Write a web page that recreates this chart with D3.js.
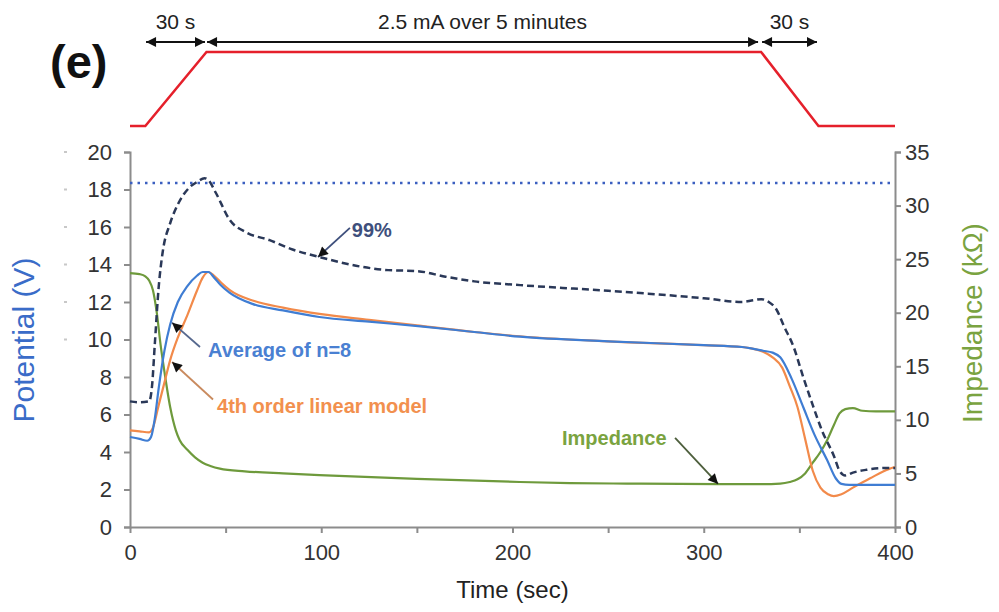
<!DOCTYPE html>
<html>
<head>
<meta charset="utf-8">
<script src="https://cdn.jsdelivr.net/npm/d3@7"></script>
<style>
  body { margin: 0; background: #fff; }
  text { font-family: "Liberation Sans", Arial, sans-serif; }
</style>
</head>
<body>
<div id="chart"></div>
<script>
// window + plot box
const width = 999
const height = 612
const plot = {left: 130, right: 895, top: 152, bottom: 527}

// ---- data ----
// average of n=8 (V)
var time_avg = [0, 5, 9, 11, 13, 15, 18, 21, 25, 30, 35, 38, 41, 44, 47, 52, 64, 80, 99, 125, 152, 180, 204, 250, 300, 320, 326, 331, 336, 340, 346, 352, 358, 364.5, 369, 372, 376, 400]
var avg = [4.8, 4.7, 4.6, 4.8, 5.8, 7.4, 9.4, 10.8, 12.0, 12.85, 13.4, 13.6, 13.6, 13.3, 12.95, 12.5, 11.9, 11.55, 11.2, 10.95, 10.7, 10.4, 10.15, 9.9, 9.7, 9.6, 9.5, 9.4, 9.3, 9.05, 7.9, 6.4, 4.9, 3.57, 2.6, 2.3, 2.25, 2.25]

// 4th order linear model (V)
var time_model = [0, 5, 10, 12, 15, 18, 21, 25, 30, 35, 38, 41, 44, 48, 52, 65, 80, 100, 125, 150, 180, 200, 250, 300, 320, 326, 331, 336, 341, 345, 349, 353, 357, 361, 365, 368, 372, 378, 387, 397, 400]
var model = [5.15, 5.1, 5.05, 5.3, 6.5, 7.7, 8.9, 10.1, 11.3, 12.6, 13.3, 13.6, 13.4, 13.0, 12.65, 12.05, 11.7, 11.35, 11.05, 10.75, 10.4, 10.2, 9.9, 9.7, 9.6, 9.5, 9.35, 9.05, 8.5, 7.5, 6.4, 4.7, 3.0, 2.1, 1.75, 1.65, 1.75, 2.1, 2.6, 3.1, 3.2]

// 99% bound (V)
var time_99 = [0, 5, 10, 11.5, 13, 15, 17, 21, 25, 31, 35, 39, 41, 45, 52, 61, 73, 85, 99, 120, 135, 150, 165, 180, 204, 250, 300, 320, 326, 330, 334, 338, 342, 347, 352, 357, 362, 368, 371, 374, 378, 385, 397, 400]
var pct99 = [6.7, 6.65, 6.7, 7.5, 9.8, 12.8, 14.6, 16.2, 17.2, 18.1, 18.4, 18.6, 18.5, 17.8, 16.4, 15.7, 15.3, 14.8, 14.4, 13.9, 13.7, 13.65, 13.35, 13.1, 12.9, 12.6, 12.2, 12.0, 12.1, 12.15, 12.0, 11.6, 10.7, 9.6, 8.0, 6.5, 5.1, 3.8, 3.0, 2.75, 2.9, 3.05, 3.15, 3.15]

// impedance (kOhm, right axis)
var time_imp = [0, 5, 8, 10, 12, 14, 16, 18, 21, 24, 26, 30, 34, 38, 42, 47, 60, 80, 99, 150, 204, 230, 260, 308, 330, 340, 345, 349, 353, 357, 361, 364.5, 368, 371, 374, 378, 383, 390, 400]
var impedance = [23.7, 23.6, 23.4, 23.0, 22.1, 20.0, 17.0, 14.5, 11.2, 9.0, 8.1, 7.2, 6.5, 6.0, 5.7, 5.45, 5.2, 5.0, 4.85, 4.5, 4.2, 4.1, 4.05, 4.0, 4.0, 4.05, 4.2, 4.45, 5.0, 6.0, 7.0, 8.1, 9.5, 10.6, 11.0, 11.1, 10.85, 10.8, 10.8]

var limit_v = 18.35   // dotted line

// current profile on top (mA)
var time_cur = [0, 8, 40, 330, 360, 400]
var current = [0, 0, 2.5, 2.5, 0, 0]
var phases = [{t0: 8.4, t1: 39.2, label: "30 s"}, {t0: 40.3, t1: 328.4, label: "2.5 mA over 5 minutes"}, {t0: 330.5, t1: 359.2, label: "30 s"}]

var ticks_v = d3.range(0, 21, 2)
var ticks_k = d3.range(0, 36, 5)
var ticks_t = d3.range(0, 401, 50)

function zip(t, v) { return t.map(function(d, i) { return {t: d, v: v[i]} }) }

var svg = d3.select("#chart").append("svg")
  .attr("width", width)
  .attr("height", height)

var defs = svg.append("defs")
defs.append("marker")
  .attr("id", "head")
  .attr("viewBox", "0 0 10 10")
  .attr("refX", 10).attr("refY", 5)
  .attr("markerUnits", "userSpaceOnUse")
  .attr("markerWidth", 12).attr("markerHeight", 10)
  .attr("orient", "auto-start-reverse")
  .append("path").attr("d", "M0,0 L10,5 L0,10 z").attr("fill", "#111")

// scales
var x = d3.scaleLinear().domain([0, 400]).range([plot.left, plot.right])
var yV = d3.scaleLinear().domain([0, 20]).range([plot.bottom, plot.top])
var yK = d3.scaleLinear().domain([0, 35]).range([plot.bottom, plot.top])
var yI = d3.scaleLinear().domain([0, 2.5]).range([126, 52])

// ---- top: current profile ----
svg.append("path")
  .datum(zip(time_cur, current))
  .attr("fill", "none")
  .attr("stroke", "#e5202b")
  .attr("stroke-width", 2.5)
  .attr("d", d3.line().x(function(d) { return x(d.t) }).y(function(d) { return yI(d.v) }))

phases.forEach(function(p) {
  svg.append("line")
    .attr("x1", x(p.t0)).attr("x2", x(p.t1))
    .attr("y1", 42).attr("y2", 42)
    .attr("stroke", "#111").attr("stroke-width", 2)
    .attr("marker-start", "url(#head)")
    .attr("marker-end", "url(#head)")
  svg.append("text")
    .attr("x", (x(p.t0) + x(p.t1)) / 2)
    .attr("y", 29)
    .attr("text-anchor", "middle")
    .attr("font-size", 21)
    .attr("fill", "#222")
    .text(p.label)
})

svg.append("text")
  .attr("x", 50).attr("y", 78)
  .attr("font-size", 47)
  .attr("font-weight", "bold")
  .attr("fill", "#111")
  .text("(e)")

// ---- axes ----
function styleAxis(g) {
  g.selectAll("path, line").attr("stroke", "#8c8c8c").attr("stroke-width", 2)
  g.selectAll("text").attr("font-size", 22).attr("fill", "#333")
    .attr("font-family", "'Liberation Sans', Arial, sans-serif")
}

svg.append("g")
  .attr("transform", "translate(" + plot.left + ",0)")
  .call(d3.axisLeft(yV).tickValues(ticks_v).tickSize(6).tickPadding(12))
  .call(styleAxis)

svg.append("g")
  .attr("transform", "translate(" + plot.right + ",0)")
  .call(d3.axisRight(yK).tickValues(ticks_k).tickSize(6).tickPadding(4))
  .call(styleAxis)

svg.append("g")
  .attr("transform", "translate(0," + plot.bottom + ")")
  .call(d3.axisBottom(x).tickValues(ticks_t).tickSize(6).tickSizeOuter(0).tickPadding(11)
    .tickFormat(function(d) { return d % 100 === 0 ? d : "" }))
  .call(styleAxis)

// faint marks left of the tick labels (from the neighbouring panel)
svg.append("g").selectAll("rect")
  .data(ticks_v.filter(function(d) { return d >= 10 }))
  .enter().append("rect")
  .attr("x", 64).attr("y", function(d) { return yV(d) - 1 })
  .attr("width", 3).attr("height", 2)
  .attr("fill", "#c8c8c8")

// axis titles
svg.append("text")
  .attr("transform", "translate(23,340) rotate(-90)")
  .attr("text-anchor", "middle")
  .attr("dominant-baseline", "central")
  .attr("font-size", 30)
  .attr("fill", "#3a6cc8")
  .text("Potential (V)")

svg.append("text")
  .attr("transform", "translate(972,323) rotate(-90)")
  .attr("text-anchor", "middle")
  .attr("dominant-baseline", "central")
  .attr("font-size", 28)
  .attr("fill", "#7aa340")
  .text("Impedance (k\u03A9)")

svg.append("text")
  .attr("x", (plot.left + plot.right) / 2)
  .attr("y", 598)
  .attr("text-anchor", "middle")
  .attr("font-size", 24)
  .attr("fill", "#222")
  .text("Time (sec)")

// ---- series ----
var lineV = d3.line().curve(d3.curveMonotoneX)
  .x(function(d) { return x(d.t) }).y(function(d) { return yV(d.v) })
var lineK = d3.line().curve(d3.curveMonotoneX)
  .x(function(d) { return x(d.t) }).y(function(d) { return yK(d.v) })

svg.append("line")
  .attr("x1", x(0)).attr("x2", x(400))
  .attr("y1", yV(limit_v)).attr("y2", yV(limit_v))
  .attr("stroke", "#3b5fc0").attr("stroke-width", 2.5)
  .attr("stroke-dasharray", "2.5,5")

svg.append("path")
  .datum(zip(time_imp, impedance))
  .attr("fill", "none").attr("stroke", "#6e9a3c").attr("stroke-width", 2.2)
  .attr("d", lineK)

svg.append("path")
  .datum(zip(time_model, model))
  .attr("fill", "none").attr("stroke", "#f28a4a").attr("stroke-width", 2.2)
  .attr("d", lineV)

svg.append("path")
  .datum(zip(time_avg, avg))
  .attr("fill", "none").attr("stroke", "#3f7dd3").attr("stroke-width", 2.2)
  .attr("d", lineV)

svg.append("path")
  .datum(zip(time_99, pct99))
  .attr("fill", "none").attr("stroke", "#2a3858").attr("stroke-width", 2.5)
  .attr("stroke-dasharray", "7,4")
  .attr("d", lineV)

// ---- annotations (text anchor and arrow in data units) ----
var notes = [
  {text: "99%", color: "#3e4f7c", arrow: "#3e4f7c", tx: 116, ty: 15.45, a0: [115, 15.95], a1: [98.3, 14.4]},
  {text: "Average of n=8", color: "#4a80d2", arrow: "#56688e", tx: 40.8, ty: 9.05, a0: [36.6, 9.6], a1: [22, 10.9]},
  {text: "4th order linear model", color: "#f2904e", arrow: "#c98a5e", tx: 45.5, ty: 6.1, a0: [43.4, 6.8], a1: [22, 8.8]},
  {text: "Impedance", color: "#7aa340", arrow: "#4d5e3c", tx: 225.9, ty: 4.4, a0: [285, 4.75], a1: [307.5, 2.3]}
]

notes.forEach(function(n) {
  svg.append("line")
    .attr("x1", x(n.a0[0])).attr("y1", yV(n.a0[1]))
    .attr("x2", x(n.a1[0])).attr("y2", yV(n.a1[1]))
    .attr("stroke", n.arrow).attr("stroke-width", 1.8)
    .attr("marker-end", "url(#head)")
  svg.append("text")
    .attr("x", x(n.tx)).attr("y", yV(n.ty))
    .attr("font-size", 20)
    .attr("font-weight", "bold")
    .attr("fill", n.color)
    .text(n.text)
})
</script>
</body>
</html>
